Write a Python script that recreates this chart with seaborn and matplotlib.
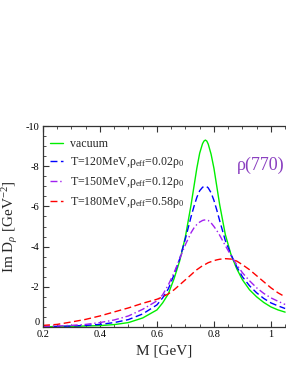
import numpy as np
import pandas as pd
import matplotlib
matplotlib.use("Agg")
import matplotlib.pyplot as plt
import seaborn as sns
from matplotlib.ticker import MultipleLocator

# ---- data ----
mass = [0.20, 0.25, 0.30, 0.35, 0.40, 0.45, 0.50, 0.55, 0.60, 0.62, 0.64, 0.66,
        0.68, 0.70, 0.72, 0.73, 0.74, 0.75, 0.76, 0.765, 0.77, 0.775, 0.78, 0.79,
        0.80, 0.81, 0.82, 0.84, 0.86, 0.88, 0.90, 0.925, 0.95, 0.975, 1.00,
        1.025, 1.05]

vacuum = [0.01, 0.02, 0.03, 0.05, 0.07, 0.12, 0.22, 0.45, 0.85, 1.2, 1.65, 2.4,
          3.3, 4.5, 6.1, 7.0, 7.9, 8.65, 9.12, 9.25, 9.3, 9.25, 9.1, 8.6,
          7.9, 7.0, 6.1, 4.6, 3.6, 2.9, 2.35, 1.85, 1.5, 1.22, 1.0,
          0.85, 0.74]

t120 = [0.02, 0.03, 0.05, 0.08, 0.13, 0.22, 0.37, 0.65, 1.1, 1.45, 1.9, 2.6,
        3.4, 4.4, 5.5, 6.0, 6.45, 6.78, 6.95, 6.99, 7.0, 6.98, 6.92, 6.68,
        6.3, 5.82, 5.3, 4.3, 3.6, 3.0, 2.5, 2.05, 1.7, 1.42, 1.2,
        1.05, 0.92]

t150 = [0.03, 0.05, 0.08, 0.13, 0.22, 0.35, 0.55, 0.88, 1.3, 1.6, 2.1, 2.7,
        3.4, 4.1, 4.7, 4.93, 5.1, 5.22, 5.3, 5.32, 5.33, 5.32, 5.3, 5.18,
        5.0, 4.8, 4.57, 4.05, 3.55, 3.1, 2.7, 2.3, 1.95, 1.67, 1.45,
        1.28, 1.12]

t180 = [0.08, 0.13, 0.25, 0.38, 0.55, 0.75, 0.95, 1.18, 1.38, 1.5, 1.65, 1.85,
        2.1, 2.35, 2.6, 2.73, 2.85, 2.95, 3.05, 3.09, 3.12, 3.16, 3.2, 3.25,
        3.3, 3.34, 3.37, 3.4, 3.38, 3.28, 3.1, 2.85, 2.55, 2.25, 1.95,
        1.7, 1.5]

labels = ["vacuum",
          "T=120MeV,\u03c1$_{\\rm eff}$=0.02\u03c1$_0$",
          "T=150MeV,\u03c1$_{\\rm eff}$=0.12\u03c1$_0$",
          "T=180MeV,\u03c1$_{\\rm eff}$=0.58\u03c1$_0$"]
series = [vacuum, t120, t150, t180]

x_ticks = [0.2, 0.4, 0.6, 0.8, 1.0]
x_tick_labels = ["0.2", "0.4", "0.6", "0.8", "1"]
y_ticks = [0, -2, -4, -6, -8, -10]
y_tick_labels = ["0", "-2", "-4", "-6", "-8", "-10"]

rows = []
for lab, vals in zip(labels, series):
    for m, v in zip(mass, vals):
        rows.append({"M": m, "ImD": -v, "curve": lab})
df = pd.DataFrame(rows)

# ---- styling ----
sns.set_theme(style="ticks")
plt.rcParams["font.family"] = ["Liberation Serif", "DejaVu Serif"]
plt.rcParams["mathtext.fontset"] = "custom"
plt.rcParams["mathtext.rm"] = "Liberation Serif"
plt.rcParams["mathtext.it"] = "Liberation Serif:italic"
plt.rcParams["axes.unicode_minus"] = False

colors = ["#00ee00", "#0000ff", "#a020f0", "#ff0000"]
dashes = {labels[0]: "", labels[1]: (5, 2.5), labels[2]: (5, 2, 1, 2), labels[3]: (5, 2.5)}

fig = plt.figure(figsize=(2.86, 3.71), dpi=100)
ax = fig.add_axes([43 / 286, 44 / 371, 243 / 286, 201 / 371])

sns.lineplot(data=df, x="M", y="ImD", hue="curve", style="curve",
             palette=colors, dashes=dashes, hue_order=labels, style_order=labels,
             linewidth=1.0, ax=ax, legend=True)

ax.set_xlim(0.2, 1.053)
ax.set_ylim(0, -10)
ax.set_xticks(x_ticks)
ax.set_xticklabels(x_tick_labels)
ax.set_yticks(y_ticks)
ax.set_yticklabels(y_tick_labels)
ax.xaxis.set_minor_locator(MultipleLocator(0.05))
ax.yaxis.set_minor_locator(MultipleLocator(0.5))
ax.tick_params(which="both", direction="in", top=True, right=False, labelsize=7.5, colors="#333333")
ax.tick_params(axis="x", pad=2.2)
ax.tick_params(axis="y", pad=2.5)
ax.tick_params(which="major", length=4, width=0.8)
ax.tick_params(which="minor", length=2, width=0.6)
for s in ["left", "bottom", "top"]:
    ax.spines[s].set_linewidth(0.9)
    ax.spines[s].set_color("#333333")
ax.spines["right"].set_visible(False)
for lab in ax.get_xticklabels() + ax.get_yticklabels():
    lab.set_color("black")
# lift the y "0" label a touch so it clears the x "0.2" label
ax.get_yticklabels()[0].set_verticalalignment("bottom")

ax.set_xlabel("M [GeV]", fontsize=11, labelpad=4)
ax.set_ylabel(r"Im D$_\rho$ [GeV$^{-2}$]", fontsize=11, labelpad=4)

leg = ax.legend(loc="upper left", bbox_to_anchor=(0.03, 0.94), frameon=False,
                fontsize=8.6, handlelength=1.1, handletextpad=0.55, labelspacing=0.42,
                borderaxespad=0.0, borderpad=0.0)

ax.text(0.995, 0.806, "\u03c1(770)", transform=ax.transAxes, ha="right", va="center",
        fontsize=13, color="#8a3fc0")

fig.savefig("out.png", dpi=100)
